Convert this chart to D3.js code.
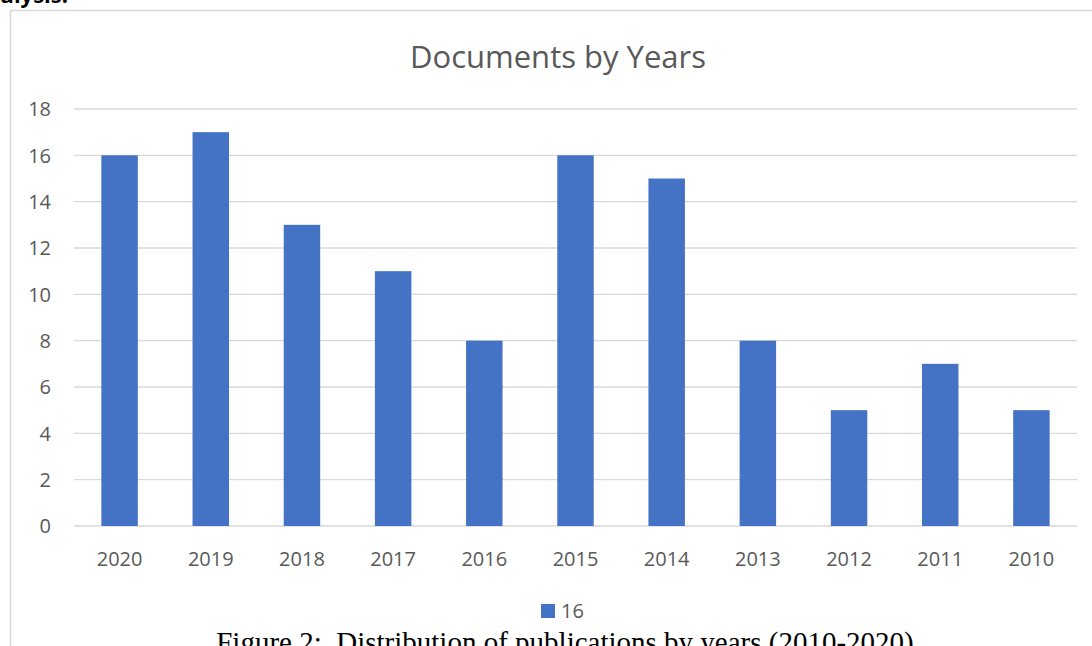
<!DOCTYPE html>
<html><head><meta charset="utf-8">
<script src="https://cdn.jsdelivr.net/npm/d3@7"></script>
<style>body{margin:0;background:#fff;overflow:hidden}svg{display:block}</style>
</head><body>
<script>
const categories = ["2020","2019","2018","2017","2016","2015","2014","2013","2012","2011","2010"];
const values = [16,17,13,11,8,16,15,8,5,7,5];
const yTicks = [0,2,4,6,8,10,12,14,16,18];
const seriesName = "16";
const title = "Documents by Years";
const caption = "Figure 2:  Distribution of publications by years (2010-2020)";

const W = 1092, H = 646;
const svg = d3.select("body").append("svg").attr("width", W).attr("height", H);
const font = "'Open Sans', sans-serif";

// frame
svg.append("path").attr("d", "M10.5,646 V10.5 H1092").attr("fill","none").attr("stroke","#d9d9d9").attr("stroke-width",1.5);

// cut-off text at top (preceding paragraph)
svg.append("text").attr("x", 68).attr("y", 3).attr("text-anchor","end").attr("font-family", font).attr("font-weight","bold")
  .attr("font-size", 22).attr("fill","#000").text("analysis.");

const x = d3.scaleBand().domain(categories).range([74, 1077]).paddingInner(0.6).paddingOuter(0.3);
const y = d3.scaleLinear().domain([0,18]).range([526, 109]);

// gridlines
svg.append("g").selectAll("line").data(yTicks).join("line")
  .attr("x1", 74).attr("x2", 1077).attr("y1", d => y(d)).attr("y2", d => y(d))
  .attr("stroke", "#d9d9d9").attr("stroke-width", 1.3);

// y labels
svg.append("g").selectAll("text").data(yTicks).join("text")
  .attr("x", 51).attr("y", d => y(d)).attr("dy","0.36em").attr("text-anchor","end")
  .attr("font-family", font).attr("font-size", 20).attr("fill","#595959").text(d => d);

// bars
svg.append("g").selectAll("rect").data(values).join("rect")
  .attr("x", (d,i) => x(categories[i])).attr("width", x.bandwidth())
  .attr("y", d => y(d)).attr("height", d => y(0) - y(d)).attr("fill", "#4472c4");

// x labels
svg.append("g").selectAll("text").data(categories).join("text")
  .attr("x", d => x(d) + x.bandwidth()/2).attr("y", 566).attr("text-anchor","middle")
  .attr("font-family", font).attr("font-size", 20).attr("fill","#595959").text(d => d);

// title
svg.append("text").attr("x", 558).attr("y", 68).attr("text-anchor","middle")
  .attr("font-family", font).attr("font-size", 31).attr("fill","#595959").text(title);

// legend
svg.append("rect").attr("x", 541).attr("y", 604).attr("width", 14).attr("height", 14).attr("fill","#4472c4");
svg.append("text").attr("x", 561).attr("y", 618).attr("font-family", font).attr("font-size", 20)
  .attr("fill","#595959").text(seriesName);

// caption
svg.append("text").attr("x", 565).attr("y", 652).attr("text-anchor","middle")
  .attr("font-family", "'Liberation Serif', 'Times New Roman', serif").attr("font-size", 29)
  .attr("fill","#000").attr("xml:space","preserve").style("white-space","pre").text(caption);
</script>
</body></html>
